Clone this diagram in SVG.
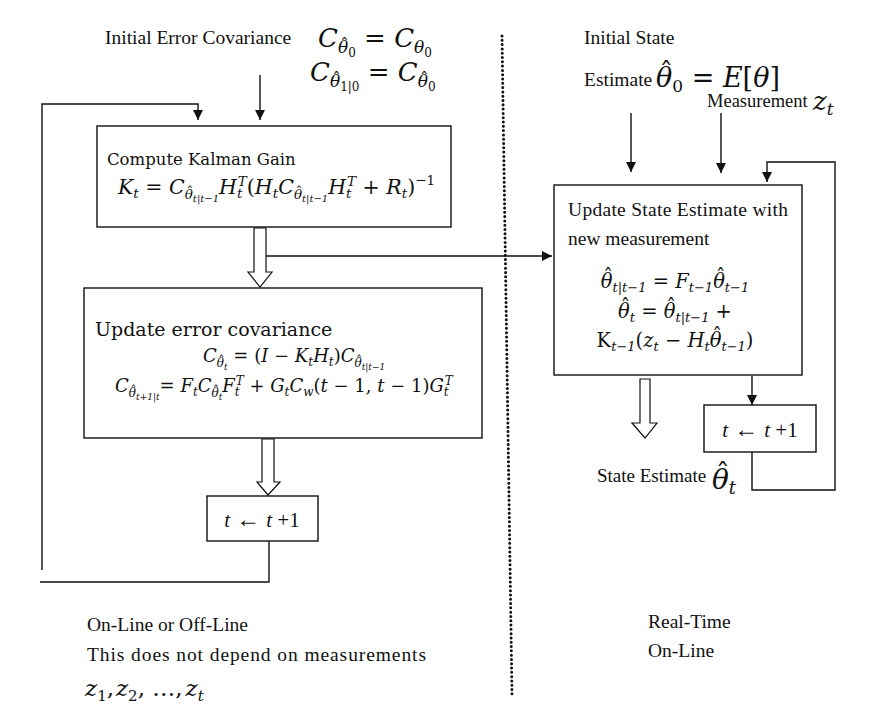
<svg xmlns="http://www.w3.org/2000/svg" width="873" height="725" viewBox="0 0 873 725">
<style>
.t{font-family:"Liberation Serif","Times New Roman",serif;fill:#111;}
.m{font-family:"DejaVu Serif","Liberation Serif",serif;fill:#111;}
.i{font-style:italic;}
.box{fill:#fff;stroke:#111;stroke-width:1.4;}
.ln{fill:none;stroke:#111;stroke-width:1.4;}
.hollow{fill:#fff;stroke:#111;stroke-width:1.2;}
</style>
<defs>
<marker id="ah" viewBox="0 0 10 10" refX="10" refY="5" markerWidth="10" markerHeight="10" markerUnits="userSpaceOnUse" orient="auto">
<path d="M0,0 L10,5 L0,10 z" fill="#111"/>
</marker>
</defs>
<rect width="873" height="725" fill="#fff"/>

<g id="divider">
<line x1="502" y1="36" x2="512" y2="695" stroke="#111" stroke-width="3" stroke-dasharray="0 4.3" stroke-linecap="round"/>
</g>

<g id="connectors">
<line class="ln" x1="260" y1="75" x2="260" y2="120" marker-end="url(#ah)"/>
<polyline class="ln" points="42,570 42,104 198,104 198,120" marker-end="url(#ah)"/>
<polygon class="hollow" points="254,228 266,228 266,272 272,272 260,287 248,272 254,272"/>
<line class="ln" x1="266" y1="256" x2="552" y2="256" marker-end="url(#ah)"/>
<polygon class="hollow" points="262,439 274,439 274,482 280,482 268,495 257,482 262,482"/>
<polyline class="ln" points="269,541 269,582 40,582"/>
<line class="ln" x1="631" y1="113" x2="631" y2="172" marker-end="url(#ah)"/>
<line class="ln" x1="721" y1="113" x2="721" y2="173" marker-end="url(#ah)"/>
<polyline class="ln" points="752,452 752,490 835,490 835,162 767,162 767,182" marker-end="url(#ah)"/>
<line class="ln" x1="752" y1="376" x2="752" y2="405" marker-end="url(#ah)"/>
<polygon class="hollow" points="640,379 650,379 650,423 657,423 645,438 632,423 640,423"/>
</g>

<g id="init-cov">
<text class="t" x="105" y="44" font-size="19.5">Initial Error Covariance</text>
<text class="m" x="318" y="47" font-size="26"><tspan class="i">C</tspan><tspan class="i" font-size="17" dy="6">θ</tspan><tspan font-size="17" dx="-8" dy="-3.4">ˆ</tspan><tspan font-size="12" dx="-0.5" dy="7.4">0</tspan><tspan dy="-10"> = </tspan><tspan class="i">C</tspan><tspan class="i" font-size="17" dy="6">θ</tspan><tspan font-size="12" dy="4">0</tspan></text>
<text class="m" x="310" y="81" font-size="26"><tspan class="i">C</tspan><tspan class="i" font-size="17" dy="6">θ</tspan><tspan font-size="17" dx="-8" dy="-3.4">ˆ</tspan><tspan font-size="12" dx="-0.5" dy="7.4">1|0</tspan><tspan dy="-10"> = </tspan><tspan class="i">C</tspan><tspan class="i" font-size="17" dy="6">θ</tspan><tspan font-size="17" dx="-8" dy="-3.4">ˆ</tspan><tspan font-size="12" dx="-0.5" dy="7.4">0</tspan></text>
</g>

<g id="kalman-gain">
<rect class="box" x="97" y="126" width="354" height="101"/>
<text class="m" x="107" y="165" font-size="16.5">Compute Kalman Gain</text>
<text class="m" x="118" y="194" font-size="20.5"><tspan class="i">K</tspan><tspan class="i" font-size="13.5" dy="4">t</tspan><tspan dy="-4"> = </tspan><tspan class="i">C</tspan><tspan class="i" font-size="13.5" dy="5">θ</tspan><tspan font-size="13.5" dx="-6.3" dy="-2.7">ˆ</tspan><tspan class="i" font-size="10" dx="-0.4" dy="5.7">t|t−1</tspan><tspan class="i" dy="-8">H</tspan><tspan class="i" font-size="13.5" dy="4">t</tspan><tspan class="i" font-size="13.5" dx="-4.5" dy="-12">T</tspan><tspan dy="8">(</tspan><tspan class="i">H</tspan><tspan class="i" font-size="13.5" dy="4">t</tspan><tspan class="i" dy="-4">C</tspan><tspan class="i" font-size="13.5" dy="5">θ</tspan><tspan font-size="13.5" dx="-6.3" dy="-2.7">ˆ</tspan><tspan class="i" font-size="10" dx="-0.4" dy="5.7">t|t−1</tspan><tspan class="i" dy="-8">H</tspan><tspan class="i" font-size="13.5" dy="4">t</tspan><tspan class="i" font-size="13.5" dx="-4.5" dy="-12">T</tspan><tspan dy="8"> + </tspan><tspan class="i">R</tspan><tspan class="i" font-size="13.5" dy="4">t</tspan><tspan dy="-4">)</tspan><tspan font-size="13.5" dy="-9">−1</tspan></text>
</g>

<g id="update-cov">
<rect class="box" x="84" y="288" width="398" height="150"/>
<text class="m" x="95" y="336" font-size="19">Update error covariance</text>
<text class="m" x="203" y="362" font-size="18"><tspan class="i">C</tspan><tspan class="i" font-size="12" dy="5">θ</tspan><tspan font-size="12" dx="-5.6" dy="-2.4">ˆ</tspan><tspan class="i" font-size="9" dx="-0.4" dy="5.4">t</tspan><tspan dy="-8">  = (</tspan><tspan class="i">I</tspan><tspan> − </tspan><tspan class="i">K</tspan><tspan class="i" font-size="12" dy="4">t</tspan><tspan class="i" dy="-4">H</tspan><tspan class="i" font-size="12" dy="4">t</tspan><tspan dy="-4">)</tspan><tspan class="i">C</tspan><tspan class="i" font-size="12" dy="5">θ</tspan><tspan font-size="12" dx="-5.6" dy="-2.4">ˆ</tspan><tspan class="i" font-size="9" dx="-0.4" dy="5.4">t|t−1</tspan></text>
<text class="m" x="115" y="392" font-size="18"><tspan class="i">C</tspan><tspan class="i" font-size="12" dy="5">θ</tspan><tspan font-size="12" dx="-5.6" dy="-2.4">ˆ</tspan><tspan class="i" font-size="9" dx="-0.4" dy="5.4">t+1|t</tspan><tspan dy="-8">= </tspan><tspan class="i">F</tspan><tspan class="i" font-size="12" dy="4">t</tspan><tspan class="i" dy="-4">C</tspan><tspan class="i" font-size="12" dy="5">θ</tspan><tspan font-size="12" dx="-5.6" dy="-2.4">ˆ</tspan><tspan class="i" font-size="9" dx="-0.4" dy="5.4">t</tspan><tspan class="i" dy="-8">F</tspan><tspan class="i" font-size="12" dy="4">t</tspan><tspan class="i" font-size="12" dx="-4" dy="-11">T</tspan><tspan dy="7"> + </tspan><tspan class="i">G</tspan><tspan class="i" font-size="12" dy="4">t</tspan><tspan class="i" dy="-4">C</tspan><tspan class="i" font-size="12" dy="4">w</tspan><tspan dy="-4">(</tspan><tspan class="i">t</tspan><tspan> − 1, </tspan><tspan class="i">t</tspan><tspan> − 1)</tspan><tspan class="i">G</tspan><tspan class="i" font-size="12" dy="4">t</tspan><tspan class="i" font-size="12" dx="-4" dy="-11">T</tspan></text>
</g>

<g id="left-increment">
<rect class="box" x="207" y="496" width="111" height="45"/>
<text class="t" x="262" y="527" font-size="21" text-anchor="middle"><tspan class="i">t</tspan><tspan font-size="24"> ← </tspan><tspan class="i">t</tspan> +1</text>
</g>

<g id="left-notes">
<text class="t" x="87" y="631" font-size="19.5">On-Line or Off-Line</text>
<text class="t" x="87" y="661" font-size="19.5" textLength="339" lengthAdjust="spacing">This does not depend on measurements</text>
<text class="m" x="85" y="696" font-size="23"><tspan class="i">z</tspan><tspan font-size="15" dy="5">1</tspan><tspan dy="-5">,</tspan><tspan class="i" dx="2">z</tspan><tspan font-size="15" dy="5">2</tspan><tspan dy="-5">, …,</tspan><tspan class="i" dx="3">z</tspan><tspan class="i" font-size="15" dy="5">t</tspan></text>
</g>

<g id="init-state">
<text class="t" x="584" y="44" font-size="19.5">Initial State</text>
<text class="t" x="584" y="86" font-size="19.5">Estimate</text>
<text class="m" x="656" y="87" font-size="27"><tspan class="i">θ</tspan><tspan font-size="27" dx="-12.7" dy="-5.4">ˆ</tspan><tspan font-size="17" dx="-0.8" dy="10.4">0</tspan><tspan dy="-5"> = </tspan><tspan class="i">E</tspan><tspan>[</tspan><tspan class="i">θ</tspan><tspan>]</tspan></text>
</g>

<g id="measurement">
<text class="t" x="707" y="107" font-size="18.5">Measurement</text>
<text class="m" x="813" y="110" font-size="26"><tspan class="i">z</tspan><tspan class="i" font-size="17" dy="5">t</tspan></text>
</g>

<g id="update-state">
<rect class="box" x="554" y="185" width="248" height="190"/>
<text class="t" x="568" y="216" font-size="19.5" textLength="220" lengthAdjust="spacing">Update State Estimate with</text>
<text class="t" x="568" y="245" font-size="19.5">new measurement</text>
<text class="m" x="675" y="288" font-size="19.5" text-anchor="middle"><tspan class="i">θ</tspan><tspan dx="-9.2" dy="-3.9">ˆ</tspan><tspan class="i" font-size="13" dx="-0.6" dy="7.9">t|t−1</tspan><tspan dy="-4"> = </tspan><tspan class="i">F</tspan><tspan class="i" font-size="13" dy="4">t−1</tspan><tspan class="i" dy="-4">θ</tspan><tspan dx="-9.2" dy="-3.9">ˆ</tspan><tspan class="i" font-size="13" dx="-0.6" dy="7.9">t−1</tspan></text>
<text class="m" x="675" y="318" font-size="19.5" text-anchor="middle"><tspan class="i">θ</tspan><tspan dx="-9.2" dy="-3.9">ˆ</tspan><tspan class="i" font-size="13" dx="-0.6" dy="7.9">t</tspan><tspan dy="-4"> = </tspan><tspan class="i">θ</tspan><tspan dx="-9.2" dy="-3.9">ˆ</tspan><tspan class="i" font-size="13" dx="-0.6" dy="7.9">t|t−1</tspan><tspan dy="-4"> +</tspan></text>
<text class="m" x="675" y="347" font-size="19.5" text-anchor="middle"><tspan>K</tspan><tspan class="i" font-size="13" dy="4">t−1</tspan><tspan dy="-4">(</tspan><tspan class="i">z</tspan><tspan class="i" font-size="13" dy="4">t</tspan><tspan dy="-4"> − </tspan><tspan class="i">H</tspan><tspan class="i" font-size="13" dy="4">t</tspan><tspan class="i" dy="-4">θ</tspan><tspan dx="-9.2" dy="-3.9">ˆ</tspan><tspan class="i" font-size="13" dx="-0.6" dy="7.9">t−1</tspan><tspan dy="-4">)</tspan></text>
</g>

<g id="right-increment">
<rect class="box" x="704" y="405" width="112" height="47"/>
<text class="t" x="760" y="437" font-size="21" text-anchor="middle"><tspan class="i">t</tspan><tspan font-size="24"> ← </tspan><tspan class="i">t</tspan> +1</text>
</g>

<g id="state-estimate">
<text class="t" x="597" y="482" font-size="19">State Estimate</text>
<text class="m" x="712" y="489" font-size="28"><tspan class="i">θ</tspan><tspan dx="-13.2" dy="-5.6">ˆ</tspan><tspan class="i" font-size="18" dx="-0.8" dy="10.6">t</tspan></text>
</g>

<g id="right-notes">
<text class="t" x="648" y="628" font-size="19.5">Real-Time</text>
<text class="t" x="648" y="657" font-size="19.5">On-Line</text>
</g>
</svg>
